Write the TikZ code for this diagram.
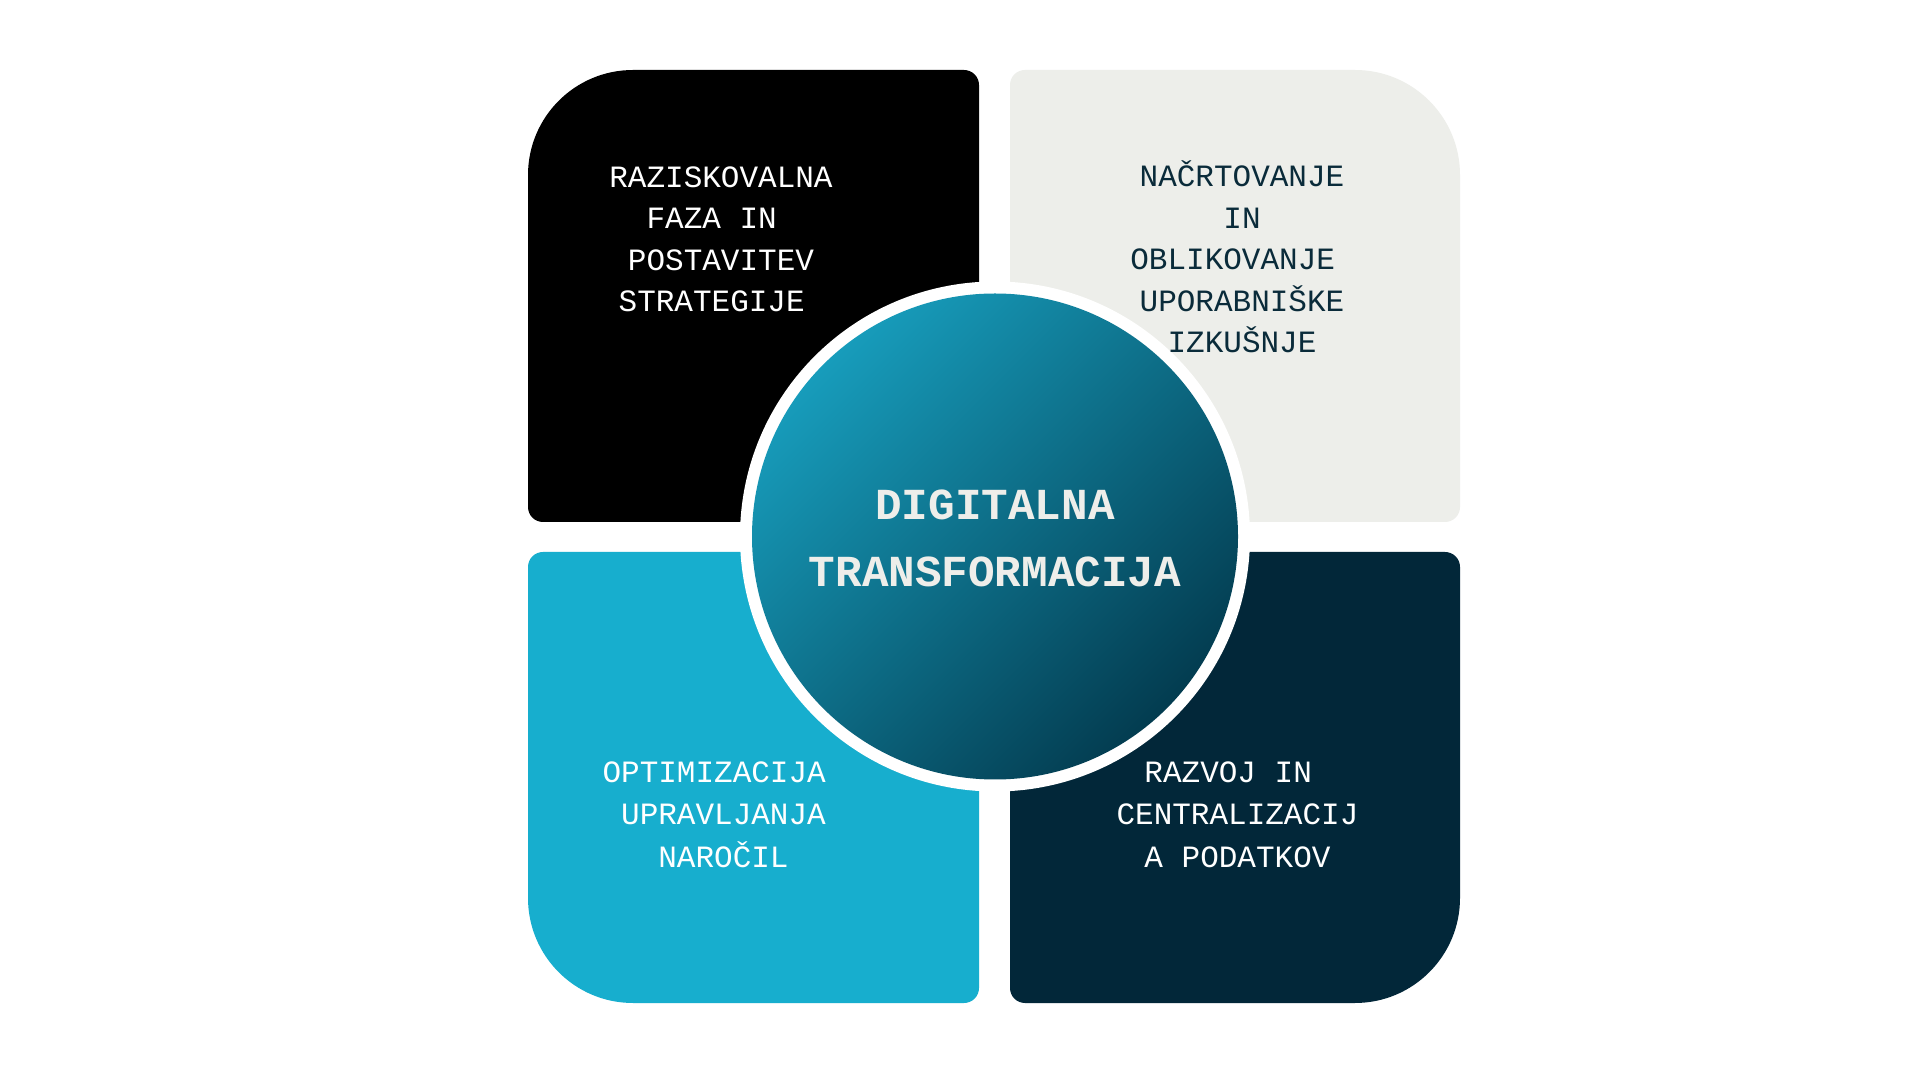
\documentclass[tikz,border=0pt]{standalone}
\usepackage{fontspec}
\setmonofont{Liberation Mono}
\definecolor{tlcol}{HTML}{000000}
\definecolor{trcol}{HTML}{EDEEEA}
\definecolor{blcol}{HTML}{17AECE}
\definecolor{brcol}{HTML}{022739}
\definecolor{trtext}{HTML}{0A2B3A}
\definecolor{ctext}{HTML}{EEEEEA}
\definecolor{glight}{HTML}{179CBB}
\definecolor{gdark}{HTML}{033C50}
\tikzset{
  boxtext/.style={font=\ttfamily\fontsize{31}{41.5}\selectfont, align=center, anchor=base, inner sep=0pt},
  boxtextb/.style={font=\ttfamily\fontsize{31}{42.5}\selectfont, align=center, anchor=base, inner sep=0pt},
  ctitle/.style={font=\ttfamily\bfseries\fontsize{44.3}{67}\selectfont, align=center, anchor=base, inner sep=0pt, text=ctext}
}
\begin{document}
\begin{tikzpicture}[x=1pt,y=1pt]
\useasboundingbox (0,0) rectangle (1920,1080);
\fill[white] (0,0) rectangle (1920,1080);
% top-left box
\fill[tlcol] (753,1010) [rounded corners=105pt] -- (528,1010) [rounded corners=15pt] -- (528,558) -- (979,558) -- (979,1010) -- cycle;
% top-right box
\fill[trcol] (1235,1010) [rounded corners=105pt] -- (1460,1010) [rounded corners=15pt] -- (1460,558) -- (1010,558) -- (1010,1010) -- cycle;
% bottom-left box
\fill[blcol] (753,77) [rounded corners=105pt] -- (528,77) [rounded corners=15pt] -- (528,528) -- (979,528) -- (979,77) -- cycle;
% bottom-right box
\fill[brcol] (1235,77) [rounded corners=105pt] -- (1460,77) [rounded corners=15pt] -- (1460,528) -- (1010,528) -- (1010,77) -- cycle;
% central circle
\fill[white] (995,543.5) circle[radius=255];
\shade[shading=axis, top color=glight, bottom color=gdark, shading angle=45] (995,543.5) circle[radius=243];
% texts (anchor = baseline of the last line)
\node[boxtext, text=white] (tltext) at (721,768) {RAZISKOVALNA\\FAZA IN\hphantom{X}\\POSTAVITEV\\STRATEGIJE\hphantom{X}};
\node[boxtext, text=trtext] (trtextnode) at (1242,727) {NAČRTOVANJE\\IN\\OBLIKOVANJE\hphantom{X}\\UPORABNIŠKE\\IZKUŠNJE};
\node[boxtextb, text=white] (bltext) at (723.5,213) {OPTIMIZACIJA\hphantom{X}\\UPRAVLJANJA\\NAROČIL};
\node[boxtextb, text=white] (brtext) at (1237.5,213) {RAZVOJ IN\hphantom{X}\\CENTRALIZACIJ\\A PODATKOV};
\node[ctitle] (center) at (995,493) {DIGITALNA\\TRANSFORMACIJA};
\end{tikzpicture}
\end{document}
